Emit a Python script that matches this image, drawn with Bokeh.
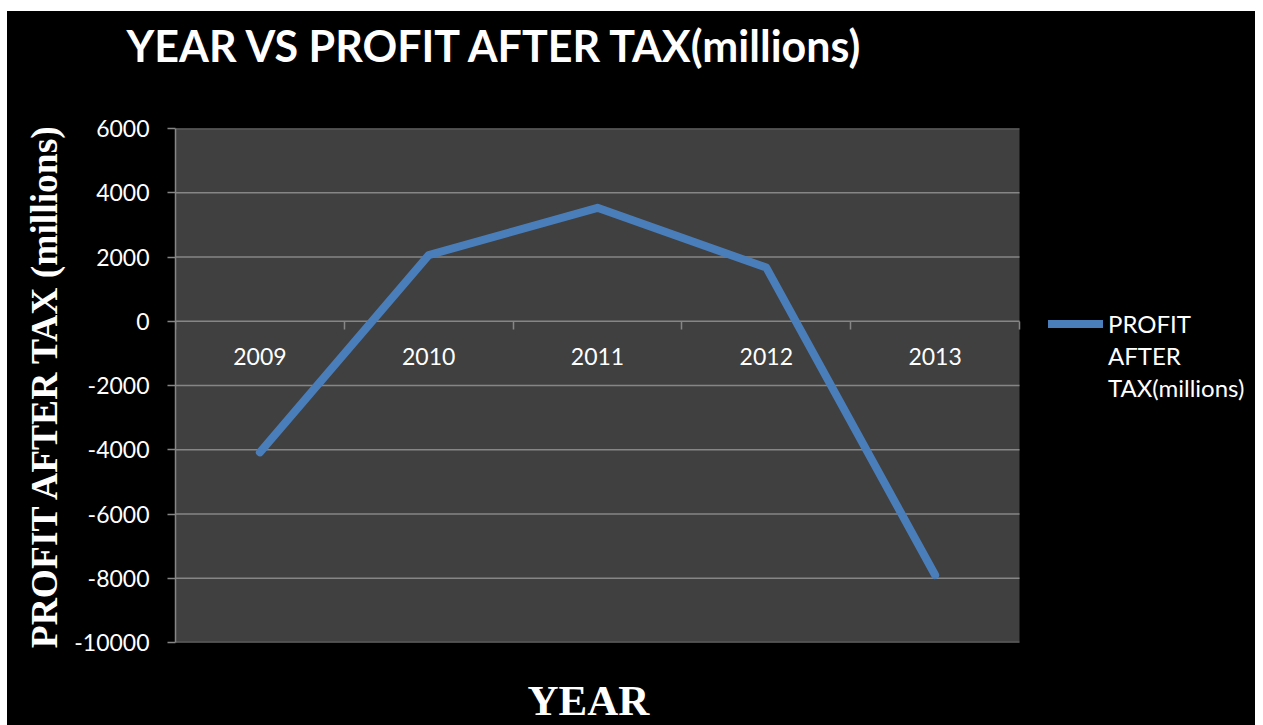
from bokeh.plotting import figure
from bokeh.models import Range1d, FixedTicker, Legend, LegendItem, Title, Spacer
from bokeh.layouts import column, row
from bokeh.embed import file_html
from bokeh.resources import INLINE

years = ["2009", "2010", "2011", "2012", "2013"]
profit = [-4080, 2060, 3530, 1670, -7900]
y_ticks = [-10000, -8000, -6000, -4000, -2000, 0, 2000, 4000, 6000]
title_text = "YEAR VS PROFIT AFTER TAX(millions)"
x_title = "YEAR"
y_title = "PROFIT AFTER TAX (millions)"
series_name = ["PROFIT", "AFTER", "TAX(millions)"]

xs = list(range(1, len(years) + 1))
bounds = [i + 0.5 for i in range(0, len(years) + 1)]

GRID = "#868686"
PLOT_BG = "#404040"

# layout constants (pixels)
W, H = 1248, 714
LEFT, TOP, BOTTOM = 168, 117, 83
AREA_PX = 844                      # width of the grey plot area
FRAME_PX = W - LEFT                # frame runs to the right edge (legend lives there)
x_end = bounds[-1] + (FRAME_PX - AREA_PX) / (AREA_PX / len(years))

p = figure(width=W, height=H, output_backend="svg", toolbar_location=None,
           x_range=Range1d(bounds[0], x_end), y_range=Range1d(y_ticks[0], y_ticks[-1]),
           min_border_left=LEFT, min_border_right=0, min_border_top=TOP, min_border_bottom=BOTTOM)
p.border_fill_color = "#000000"
p.background_fill_color = "#000000"
p.outline_line_color = None
p.styles = {"background-color": "#000000"}

# grey plot area and horizontal grid lines
p.quad(left=[bounds[0]], right=[bounds[-1]], bottom=[y_ticks[0]], top=[y_ticks[-1]],
       fill_color=PLOT_BG, line_color=None)
p.segment(x0=[bounds[0]] * len(y_ticks), x1=[bounds[-1]] * len(y_ticks), y0=y_ticks, y1=y_ticks,
          line_color=GRID, line_width=1.5)
p.xgrid.visible = False
p.ygrid.visible = False


def spacer_title(gap):
    return Title(text=" ", text_font_size="1px", standoff=gap, text_color="#000000")


# title (outermost) + spacer between title and frame
p.title.text = title_text
p.title.text_color = "white"
p.title.text_font = "Lato"
p.title.text_font_style = "bold"
p.title.text_font_size = "43px"
p.title.align = "left"
p.title.offset = -49
p.title.standoff = 0
p.add_layout(spacer_title(55), "above")

# x axis sitting on y = 0
xa = p.xaxis[0]
xa.fixed_location = 0
xa.bounds = (bounds[0], bounds[-1])
xa.ticker = FixedTicker(ticks=xs, minor_ticks=bounds)
xa.major_label_overrides = {x: y for x, y in zip(xs, years)}
xa.major_tick_out = 0
xa.major_tick_in = 0
xa.minor_tick_out = 8
xa.minor_tick_in = 0
xa.minor_tick_line_color = GRID
xa.minor_tick_line_width = 1.5
xa.axis_line_color = None
xa.major_label_standoff = 19
xa.major_label_text_color = "white"
xa.major_label_text_font = "Lato"
xa.major_label_text_font_size = "23px"

# x axis title below the frame
p.add_layout(spacer_title(29), "below")
p.add_layout(Title(text=x_title, align="left", offset=352, standoff=0, text_color="white",
                   text_font="Liberation Serif", text_font_style="bold",
                   text_font_size="43px"), "below")

ya = p.yaxis[0]
ya.ticker = FixedTicker(ticks=y_ticks)
ya.major_label_overrides = {t: str(t) for t in y_ticks}
ya.minor_tick_line_color = None
ya.major_tick_out = 8
ya.major_tick_in = 0
ya.major_tick_line_color = GRID
ya.major_tick_line_width = 1.5
ya.axis_line_color = GRID
ya.axis_line_width = 1.5
ya.bounds = (y_ticks[0], y_ticks[-1])
ya.major_label_standoff = 18
ya.major_label_text_color = "white"
ya.major_label_text_font = "Lato"
ya.major_label_text_font_size = "23px"
ya.axis_label = y_title
ya.axis_label_text_font = "Liberation Serif"
ya.axis_label_text_font_style = "bold"
ya.axis_label_text_font_size = "37.5px"
ya.axis_label_text_color = "white"
ya.axis_label_standoff = 6

r = p.line(xs, profit, line_color="#4A7EBB", line_width=8, line_cap="round", line_join="round")
blank = p.line([], [], line_alpha=0)

legend = Legend(items=[LegendItem(label=series_name[0], renderers=[r]),
                       LegendItem(label=series_name[1], renderers=[blank]),
                       LegendItem(label=series_name[2], renderers=[blank])],
                location=(873, 240), orientation="vertical")
legend.background_fill_alpha = 0
legend.border_line_color = None
legend.margin = 0
legend.padding = 0
legend.spacing = 3
legend.glyph_width = 55
legend.glyph_height = 29
legend.label_height = 29
legend.label_standoff = 5
legend.label_text_color = "white"
legend.label_text_font = "Lato"
legend.label_text_font_size = "24px"
p.add_layout(legend, "center")

layout = column(Spacer(height=11, width=10), row(Spacer(width=7, height=10), p, spacing=0), spacing=0)
open("out.html", "w").write(file_html(layout, INLINE))
